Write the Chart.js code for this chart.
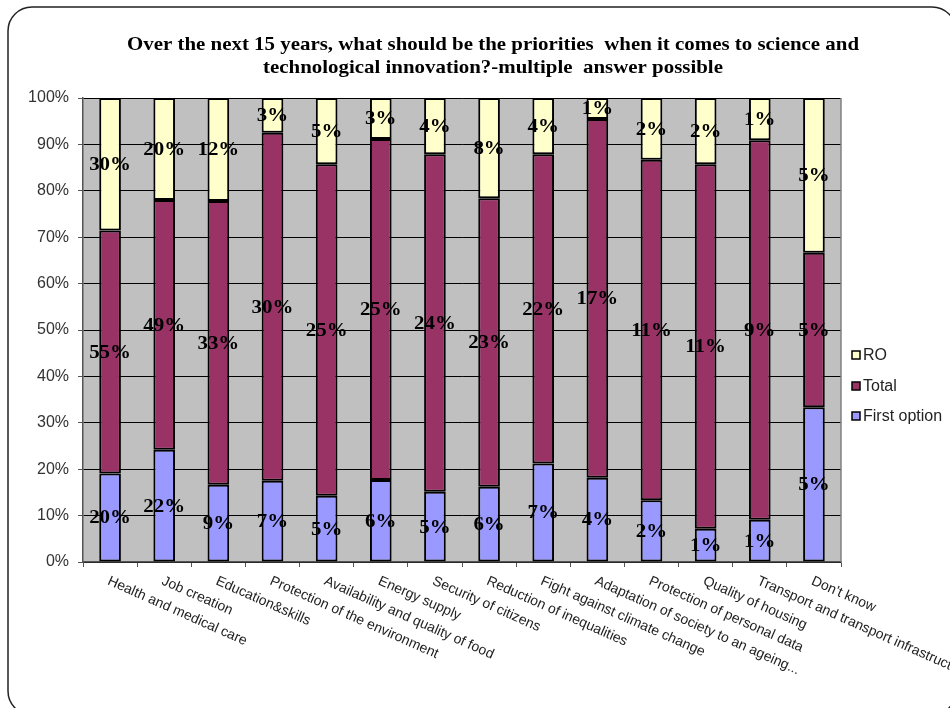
<!DOCTYPE html>
<html>
<head>
<meta charset="utf-8">
<script src="https://cdn.jsdelivr.net/npm/chart.js@4.4.1/dist/chart.umd.min.js"></script>
<style>
  html, body { margin: 0; padding: 0; background: #fff; }
  #wrap { width: 950px; height: 708px; position: relative; }
</style>
</head>
<body>
<div id="wrap"><canvas id="c" width="950" height="708"></canvas></div>
<script>
// Survey answers per priority (raw percentages as reported)
const categories = [
  'Health and medical care', 'Job creation', 'Education&skills',
  'Protection of the environment', 'Availability and quality of food',
  'Energy supply', 'Security of citizens', 'Reduction of inequalities',
  'Fight against climate change', 'Adaptation of society to an ageing...',
  'Protection of personal data', 'Quality of housing',
  'Transport and transport infrastructure', "Don't know"
];
const firstOption = [20, 22, 9, 7, 5, 6, 5, 6, 7, 4, 2, 1, 1, 5];
const totalVals   = [55, 49, 33, 30, 25, 25, 24, 23, 22, 17, 11, 11, 9, 5];
const roVals      = [30, 20, 12, 3, 5, 3, 4, 8, 4, 1, 2, 2, 1, 5];
const seriesNames = ['First option', 'Total', 'RO'];
const yTickValues = [0, 10, 20, 30, 40, 50, 60, 70, 80, 90, 100];
const titleLines = [
  'Over the next 15 years, what should be the priorities  when it comes to science and',
  'technological innovation?-multiple  answer possible'
];

const COLORS = ['#9999FF', '#993366', '#FFFFCC'];
const rawSeries = [firstOption, totalVals, roVals];

// Each column is stacked to 100% of its own sum
const shares = rawSeries.map(s => s.map((v, i) => {
  const sum = firstOption[i] + totalVals[i] + roVals[i];
  return v / sum * 100;
}));

const decorPlugin = {
  id: 'decor',
  beforeDraw(chart) {
    const ctx = chart.ctx;
    const a = chart.chartArea;
    ctx.save();
    ctx.fillStyle = '#fff';
    ctx.fillRect(0, 0, chart.width, chart.height);
    // slide frame
    ctx.strokeStyle = '#222';
    ctx.lineWidth = 1.5;
    ctx.beginPath();
    ctx.roundRect(8, 7, 948, 708, 24);
    ctx.stroke();
    // plot background
    ctx.fillStyle = '#C0C0C0';
    ctx.fillRect(a.left, a.top, a.right - a.left, a.bottom - a.top);
    ctx.restore();
  },
  afterDraw(chart) {
    const ctx = chart.ctx;
    const a = chart.chartArea;
    const xs = chart.scales.x;
    ctx.save();

    // right edge of plot area
    ctx.strokeStyle = '#808080';
    ctx.lineWidth = 1.5;
    ctx.beginPath();
    ctx.moveTo(a.right, a.top);
    ctx.lineTo(a.right, a.bottom);
    ctx.stroke();

    // value labels centred in each segment
    ctx.fillStyle = '#000';
    ctx.font = 'bold 19px "Liberation Serif", "Times New Roman", serif';
    ctx.textAlign = 'center';
    ctx.textBaseline = 'middle';
    rawSeries.forEach((series, d) => {
      const meta = chart.getDatasetMeta(d);
      meta.data.forEach((el, i) => {
        const p = el.getProps(['x', 'y', 'base'], true);
        const cy = (p.y + p.base) / 2;
        ctx.save();
        ctx.translate(p.x, cy + 1);
        ctx.scale(1.1, 1);
        ctx.fillText(series[i] + '%', 0, 0);
        ctx.restore();
      });
    });

    // category labels, slanted downwards
    ctx.fillStyle = '#222';
    ctx.font = '14px "Liberation Sans", Arial, sans-serif';
    ctx.textAlign = 'left';
    ctx.textBaseline = 'top';
    categories.forEach((c, i) => {
      const x = xs.getPixelForValue(i);
      ctx.save();
      ctx.translate(x + 1, a.bottom + 12);
      ctx.rotate(24 * Math.PI / 180);
      ctx.fillText(c, 0, 0);
      ctx.restore();
    });

    // legend (reverse order)
    ctx.font = '16px "Liberation Sans", Arial, sans-serif';
    ctx.textBaseline = 'middle';
    const legY = [416, 386, 355];
    seriesNames.forEach((n, d) => {
      const y = legY[d];
      ctx.fillStyle = COLORS[d];
      ctx.fillRect(852, y - 4, 8, 8);
      ctx.strokeStyle = '#000';
      ctx.lineWidth = 1.5;
      ctx.strokeRect(852, y - 4, 8, 8);
      ctx.fillStyle = '#222';
      ctx.fillText(n, 863, y + 1);
    });

    // title
    ctx.fillStyle = '#000';
    ctx.font = 'bold 19px "Liberation Serif", "Times New Roman", serif';
    ctx.textAlign = 'center';
    ctx.textBaseline = 'middle';
    titleLines.forEach((t, k) => {
      ctx.save();
      ctx.translate(493, 45 + k * 23);
      ctx.scale(1.1, 1);
      ctx.fillText(t, 0, 0);
      ctx.restore();
    });

    ctx.restore();
  }
};

new Chart(document.getElementById('c'), {
  type: 'bar',
  data: {
    labels: categories,
    datasets: seriesNames.map((n, d) => ({
      label: n,
      data: shares[d],
      backgroundColor: COLORS[d],
      borderColor: '#000',
      borderWidth: 2,
      borderSkipped: false,
      categoryPercentage: 1,
      barPercentage: 0.4
    }))
  },
  options: {
    responsive: false,
    animation: false,
    devicePixelRatio: 1,
    layout: { padding: { left: 8, right: 109, top: 98, bottom: 141 } },
    plugins: { legend: { display: false }, title: { display: false }, tooltip: { enabled: false } },
    scales: {
      x: {
        stacked: true,
        ticks: { display: false },
        grid: { display: true, drawOnChartArea: false, drawTicks: true, tickLength: 5, color: '#555', offset: true },
        border: { display: true, color: '#555', width: 1.5 }
      },
      y: {
        stacked: true,
        min: 0,
        max: 100,
        afterBuildTicks(scale) { scale.ticks = yTickValues.map(v => ({ value: v })); },
        afterFit(scale) { scale.width = 75; },
        ticks: {
          callback: v => v + '%',
          color: '#333',
          padding: 9,
          font: { family: '"Liberation Sans", Arial, sans-serif', size: 16 }
        },
        grid: { color: '#000', lineWidth: 1, tickLength: 5, tickColor: '#555' },
        border: { display: true, color: '#555', width: 1.5 }
      }
    }
  },
  plugins: [decorPlugin]
});
</script>
</body>
</html>
